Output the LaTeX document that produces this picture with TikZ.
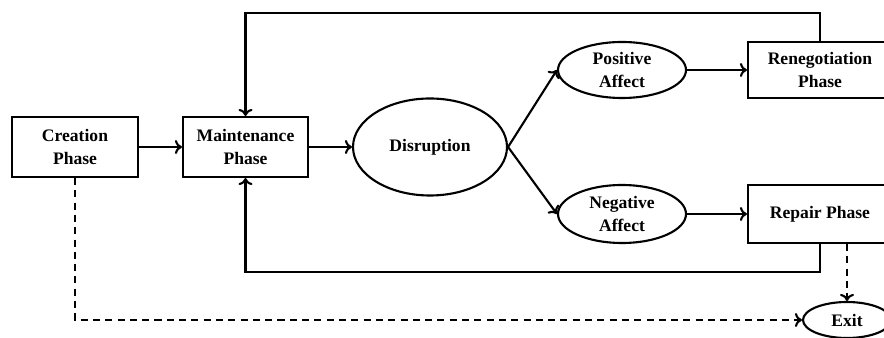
\documentclass[tikz,border=0pt]{standalone}
\usepackage{fontspec}
\setmainfont{Liberation Serif}
\usepackage{tikz}
\usetikzlibrary{shapes.geometric}
\usetikzlibrary{positioning}
\usetikzlibrary{calc}
\usetikzlibrary{arrows.meta}
\pgfdeclarelayer{nodelayer}
\pgfdeclarelayer{edgelayer}
\pgfsetlayers{edgelayer,nodelayer,main}
\tikzstyle{none}=[inner sep=0pt]
\tikzstyle{phase}=[shape=rectangle, draw, line width=1.2pt, fill=white, align=center, inner sep=0pt,
font=\bfseries\fontsize{10}{13}\selectfont]
\tikzstyle{oval}=[shape=ellipse, draw, line width=1.2pt, fill=white, align=center, inner sep=0pt,
font=\bfseries\fontsize{10}{13}\selectfont]
\tikzstyle{link}=[line width=1.2pt, -{To[length=4pt, width=8pt]}]
\tikzstyle{dashes}=[dash pattern=on 4pt off 3pt]

\begin{document}
\begin{tikzpicture}
	\useasboundingbox (0,0) rectangle (17.68,6.76);
	\clip (0,0) rectangle (17.68,6.76);
	\begin{pgfonlayer}{nodelayer}
		\node [style=phase, minimum width=2.52cm, minimum height=1.2cm] (0) at (1.5, 3.82) {Creation\\Phase};
		\node [style=phase, minimum width=2.5cm, minimum height=1.2cm] (1) at (4.91, 3.82) {Maintenance\\Phase};
		\node [style=oval, minimum width=3.08cm, minimum height=1.94cm] (2) at (8.6, 3.82) {Disruption};
		\node [style=oval, minimum width=2.56cm, minimum height=1.12cm] (3) at (12.44, 5.36) {Positive\\Affect};
		\node [style=oval, minimum width=2.56cm, minimum height=1.16cm] (4) at (12.44, 2.48) {Negative\\Affect};
		\node [style=phase, minimum width=2.88cm, minimum height=1.12cm] (5) at (16.4, 5.36) {Renegotiation\\Phase};
		\node [style=phase, minimum width=2.88cm, minimum height=1.16cm] (6) at (16.4, 2.48) {Repair Phase};
		\node [style=oval, minimum width=1.76cm, minimum height=0.72cm] (7) at (16.94, 0.36) {Exit};
		\coordinate (8) at (16.4, 6.5);
		\coordinate (9) at (16.4, 1.32);
		\coordinate (10) at (1.5, 0.36);
	\end{pgfonlayer}
	\begin{pgfonlayer}{edgelayer}
		\draw [style=link] (0) to (1);
		\draw [style=link] (1) to (2);
		\draw [style=link] (2.east) to (3.west);
		\draw [style=link] (2.east) to (4.west);
		\draw [style=link] (3) to (5);
		\draw [style=link] (4) to (6);
		\draw [style=link] (5.north) -- (8) -| (1.north);
		\draw [style=link] (6.south) -- (9) -| (1.south);
		\draw [style=link, style=dashes] (6.south -| 7.north) to (7.north);
		\draw [style=link, style=dashes] (0.south) -- (10) -- (7.west);
	\end{pgfonlayer}
\end{tikzpicture}
\end{document}
